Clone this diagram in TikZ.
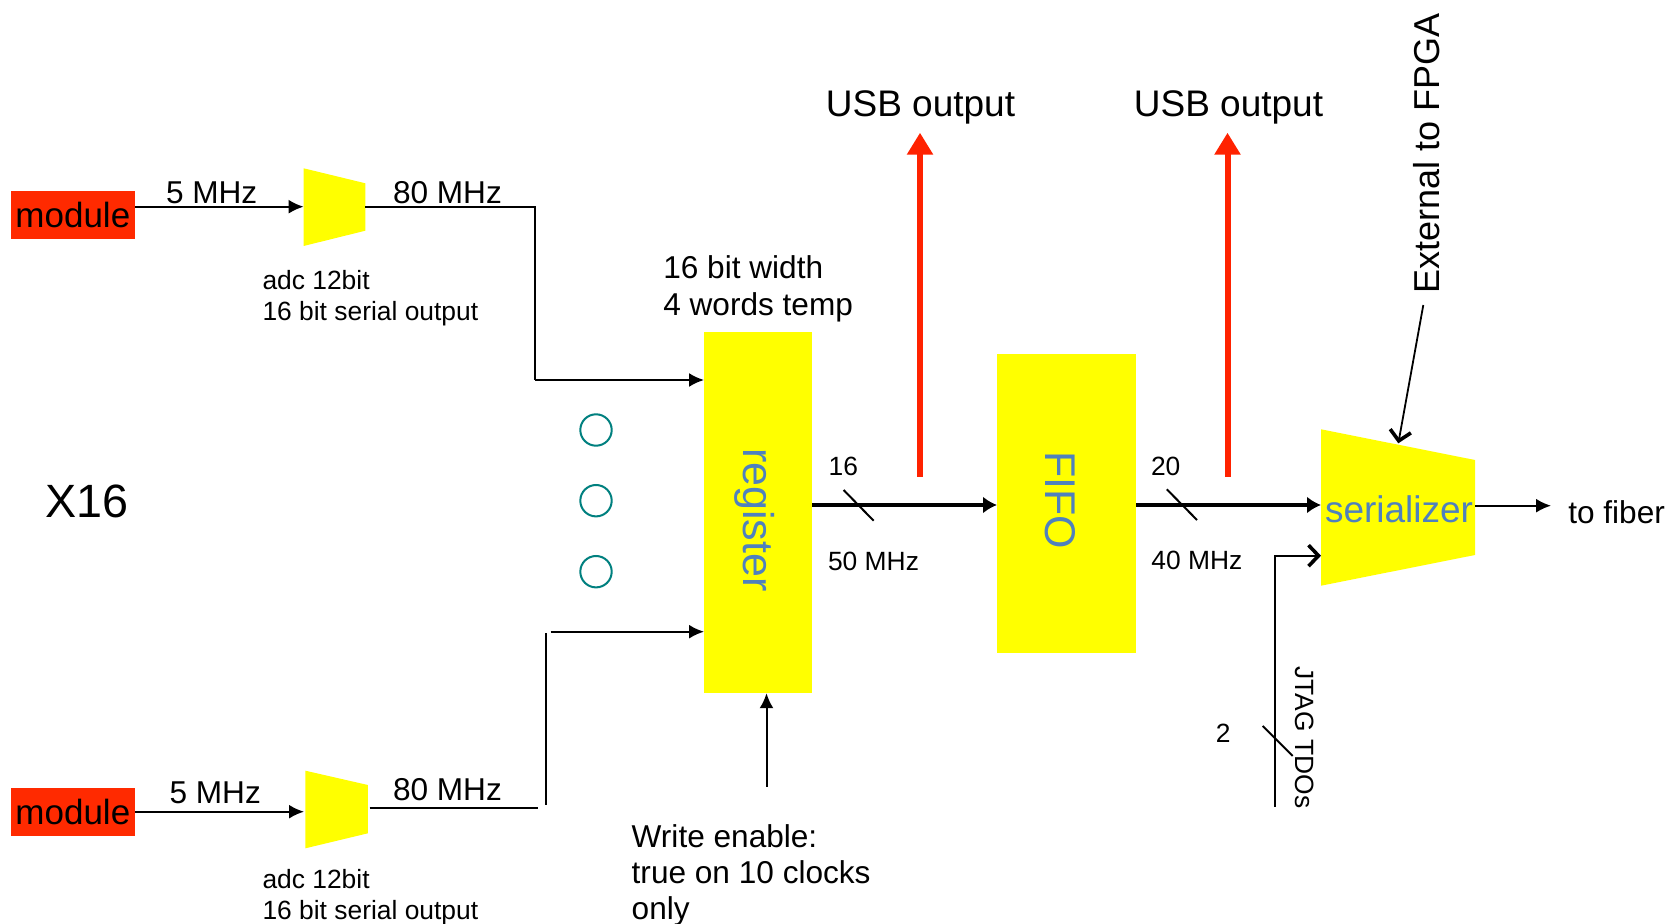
\documentclass[tikz,border=0pt]{standalone}
\usepackage{fontspec}
\setmainfont{Liberation Sans}
\usetikzlibrary{arrows.meta}
\definecolor{modred}{HTML}{FF2A00}
\definecolor{ylw}{HTML}{FFFF00}
\definecolor{txtblue}{HTML}{4F81BD}
\definecolor{dotteal}{HTML}{00807F}
\definecolor{usbred}{HTML}{FF2200}
\tikzset{
  every node/.style={inner sep=0pt, outer sep=0pt},
  ln/.style={line width=1pt},
  arr/.style={line width=1pt, -{Latex[length=7.5pt,width=7pt]}},
  busarr/.style={line width=2pt, -{Latex[length=7pt,width=8.5pt]}},
  barb/.style={line width=0.9pt, -{Straight Barb[length=5pt,width=10.5pt,line width=1.8pt]}},
  usbarr/.style={line width=3pt, usbred, -{Triangle[length=11pt,width=12.5pt]}},
  modbox/.style={fill=modred, minimum width=62.15pt, minimum height=24pt, font=\fontsize{17.5pt}{20pt}\selectfont},
  yblock/.style={fill=ylw},
  big/.style={font=\fontsize{15.8pt}{18pt}\selectfont},
  small/.style={font=\fontsize{13.2pt}{16pt}\selectfont},
  usbtxt/.style={font=\fontsize{18.5pt}{21pt}\selectfont},
  bluetxt/.style={text=txtblue, font=\fontsize{21.5pt}{24pt}\selectfont},
  sertxt/.style={text=txtblue, font=\fontsize{18.5pt}{21pt}\selectfont},
  dotc/.style={draw=dotteal, line width=1pt, circle, minimum size=15.7pt},
}
\begin{document}
\begin{tikzpicture}[x=0.5pt,y=-0.5pt]
\useasboundingbox (0,0) rectangle (1669,924);
\fill[white] (0,0) rectangle (1669,924);

% modules
\node[modbox] (m1) at (72.85,215) {module};
\node[modbox] (m2) at (72.85,812.2) {module};

% adc trapezoids
\fill[yblock] (303.6,168.3) -- (365.4,183.3) -- (365.4,230.7) -- (303.6,246) -- cycle;
\coordinate (a1in) at (303.6,206.7);
\coordinate (a1out) at (365.4,206.7);
\fill[yblock] (305.4,770.7) -- (367.9,785) -- (367.9,833.3) -- (305.4,848.3) -- cycle;
\coordinate (a2in) at (304,811.7);
\coordinate (a2out) at (369.6,808.3);

% register, FIFO
\node[yblock, minimum width=54pt, minimum height=180.5pt] (reg) at (758,512.7) {};
\node[rotate=-90, bluetxt] (regl) at (755,520) {register};
\node[yblock, minimum width=69.5pt, minimum height=149pt] (fifo) at (1066.5,503.5) {};
\node[rotate=-90, bluetxt] (fifol) at (1060,500) {FIFO};

% serializer
\fill[yblock] (1321,429.3) -- (1475,460) -- (1475,555) -- (1321,585.7) -- cycle;
\coordinate (serin) at (1321,505);
\coordinate (serj) at (1321,555.7);
\coordinate (serout) at (1475,505.7);
\coordinate (sertop) at (1398.3,443.3);
\node[sertxt, anchor=base] (serl) at (1399,523) {serializer};

% labels
\node[big, anchor=base west] (f1) at (166,203.3) {5 MHz};
\node[big, anchor=base west] (f2) at (393,203.3) {80 MHz};
\node[big, anchor=base west] (f3) at (169.6,803.3) {5 MHz};
\node[big, anchor=base west] (f4) at (393,800.7) {80 MHz};
\node[small, anchor=base west] (adc1a) at (262.5,290) {adc 12bit};
\node[small, anchor=base west] (adc1b) at (262.5,321) {16 bit serial output};
\node[small, anchor=base west] (adc2a) at (262.5,888.3) {adc 12bit};
\node[small, anchor=base west] (adc2b) at (262.5,919.3) {16 bit serial output};
\node[font=\fontsize{23.35pt}{26pt}\selectfont, anchor=base west] (x16) at (45,517) {X16};
\node[big, anchor=base west] (wa) at (663.3,279) {16 bit width};
\node[big, anchor=base west] (wb) at (663.3,316) {4 words temp};
\node[big, anchor=base west] (we1) at (631.7,847.5) {Write enable:};
\node[big, anchor=base west] (we2) at (631.7,883.5) {true on 10 clocks};
\node[big, anchor=base west] (we3) at (631.7,919.5) {only};
\node[usbtxt, anchor=base] (usb1) at (920.5,117) {USB output};
\node[usbtxt, anchor=base] (usb2) at (1228.5,117) {USB output};
\node[small] (n16) at (843.4,466.7) {16};
\node[small] (n50) at (873.5,561.7) {50 MHz};
\node[small] (n20) at (1165.7,466.7) {20};
\node[small] (n40) at (1196.8,560) {40 MHz};
\node[small] (n2) at (1223.3,733.3) {2};
\node[small, rotate=-90] (jtag) at (1305,737.5) {JTAG TDOs};
\node[font=\fontsize{18pt}{20pt}\selectfont, rotate=90] (ext) at (1427,153.3) {External to FPGA};
\node[big, anchor=base west] (fiber) at (1568.3,523.3) {to fiber};

% dots
\node[dotc] (d1) at (596,430) {};
\node[dotc] (d2) at (596,500.7) {};
\node[dotc] (d3) at (596,571.7) {};

% connectors
\draw[arr] (m1.east |- a1in) -- (a1in);
\draw[arr] (m2.east |- a2in) -- (a2in);
\draw[ln] (a1out) -- (534.6,206.7) -- (534.6,380);
\draw[arr] (534.6,380) -- (reg.west |- 0,380);
\draw[ln] (a2out) -- (538.3,808.3);
\draw[ln] (545.7,633) -- (545.7,805);
\draw[arr] (550.7,631.7) -- (reg.west |- 0,631.7);
\coordinate (wen) at (766.5,786.7);
\draw[arr] (wen) -- (reg.south -| wen);

\draw[busarr] (reg.east |- 0,505) -- (fifo.west |- 0,505);
\draw[ln] (843.6,490) -- (873.6,520.7);
\draw[busarr] (fifo.east |- 0,505) -- (serin);
\draw[ln] (1166.8,489.3) -- (1197,520);
\draw[arr] (serout) -- (1551,505.7);

\coordinate (jb) at (1275,806.7);
\draw[barb] (jb) -- (1275,555.7) -- (serj);
\draw[ln] (1262.7,726) -- (1292.7,756);

\coordinate (extend) at (1423.3,305);
\draw[barb] (extend) -- (sertop);

\coordinate (u1) at (920,476.7);
\coordinate (u2) at (1227.5,476.7);
\draw[usbarr] (u1) -- (920,132.7);
\draw[usbarr] (u2) -- (1227.5,132.7);
\end{tikzpicture}
\end{document}
